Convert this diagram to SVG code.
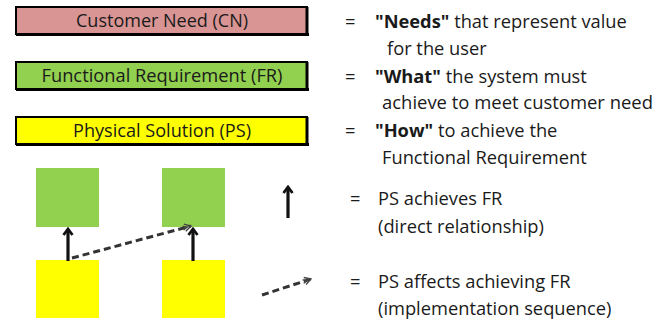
<svg xmlns="http://www.w3.org/2000/svg" width="670" height="322" viewBox="0 0 670 322">
<defs>
<style>
.lbl{font-family:"Open Sans","Liberation Sans",sans-serif;font-size:18px;fill:#1a1a1a;text-anchor:middle}
.txt{font-family:"Open Sans","Liberation Sans",sans-serif;font-size:18.3px;fill:#1a1a1a}
.b{font-weight:bold}
.box{stroke:#000;stroke-width:2}
.sq{stroke:none}
.solid{stroke:#111;stroke-width:3.2;fill:none}
.dash{stroke:#333;stroke-width:3;fill:none;stroke-dasharray:7 4}
</style>
<marker id="ah" viewBox="0 0 12 12" refX="10" refY="6" markerWidth="12" markerHeight="12" markerUnits="userSpaceOnUse" orient="auto">
<path d="M4,1.5 L10,6 L4,10.5" fill="none" stroke="#111" stroke-width="2.8"/>
</marker>
<marker id="ao" viewBox="0 0 12 12" refX="10" refY="6" markerWidth="11" markerHeight="11" markerUnits="userSpaceOnUse" orient="auto">
<path d="M3,2 L10,6 L3,10 M1,4 L6,6 L1,8" fill="none" stroke="#444" stroke-width="1.5"/>
</marker>
</defs>
<g id="cn">
<rect class="box" x="16" y="7" width="291" height="27" fill="#d99594"/>
<path d="M307,7 V35 M16,34.5 H309" stroke="#000" stroke-width="3"/>
<text class="lbl" x="162" y="27" textLength="172" lengthAdjust="spacingAndGlyphs">Customer Need (CN)</text>
</g>
<g id="fr">
<rect class="box" x="16" y="62" width="291" height="27" fill="#92d050"/>
<path d="M307,62 V90 M16,89.5 H309" stroke="#000" stroke-width="3"/>
<text class="lbl" x="162" y="82" textLength="241" lengthAdjust="spacingAndGlyphs">Functional Requirement (FR)</text>
</g>
<g id="ps">
<rect class="box" x="16" y="117" width="291" height="27" fill="#ffff00"/>
<path d="M307,117 V145 M16,144.5 H309" stroke="#000" stroke-width="3"/>
<text class="lbl" x="162" y="137" textLength="178" lengthAdjust="spacingAndGlyphs">Physical Solution (PS)</text>
</g>
<g id="defs-text">
<text class="txt" x="345" y="28">=</text>
<text class="txt" x="375" y="28"><tspan class="b">"Needs"</tspan> that represent value</text>
<text class="txt" x="387" y="55">for the user</text>
<text class="txt" x="345" y="83">=</text>
<text class="txt" x="375" y="83"><tspan class="b">"What"</tspan> the system must</text>
<text class="txt" x="382" y="109" textLength="271" lengthAdjust="spacingAndGlyphs">achieve to meet customer need</text>
<text class="txt" x="345" y="137">=</text>
<text class="txt" x="375" y="137"><tspan class="b">"How"</tspan> to achieve the</text>
<text class="txt" x="382" y="164">Functional Requirement</text>
</g>
<g id="fr1"><rect class="sq" x="36" y="168" width="63" height="59" fill="#92d050"/></g>
<g id="fr2"><rect class="sq" x="162" y="168" width="63" height="59" fill="#92d050"/></g>
<g id="ps1"><rect class="sq" x="36" y="260" width="63" height="58" fill="#ffff00"/></g>
<g id="ps2"><rect class="sq" x="162" y="260" width="63" height="58" fill="#ffff00"/></g>
<g id="connectors">
<line class="solid" x1="68" y1="261" x2="68" y2="229" marker-end="url(#ah)"/>
<line class="solid" x1="193" y1="261" x2="193" y2="229" marker-end="url(#ah)"/>
<line class="dash" x1="72" y1="258" x2="191" y2="226" marker-end="url(#ao)"/>
<line class="solid" x1="288" y1="218" x2="288" y2="187" marker-end="url(#ah)"/>
<line class="dash" x1="262" y1="295" x2="311" y2="279" marker-end="url(#ao)"/>
</g>
<g id="legend-text">
<text class="txt" x="350" y="205">=</text>
<text class="txt" x="378" y="205">PS achieves FR</text>
<text class="txt" x="378" y="233">(direct relationship)</text>
<text class="txt" x="350" y="288">=</text>
<text class="txt" x="378" y="288">PS affects achieving FR</text>
<text class="txt" x="378" y="315">(implementation sequence)</text>
</g>
</svg>
